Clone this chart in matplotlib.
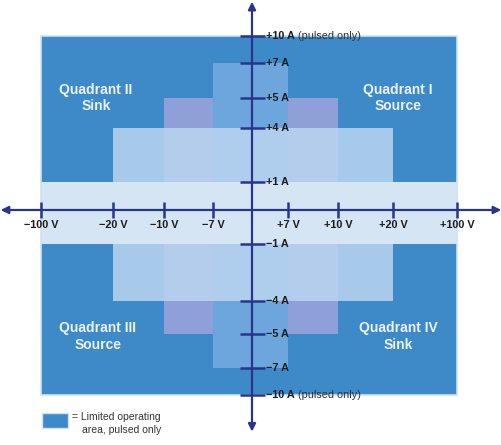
import numpy as np
import matplotlib.pyplot as plt
from matplotlib.patches import Rectangle

plt.rcParams['font.family'] = ['Liberation Sans', 'DejaVu Sans']

# tick values on the two axes
volt_ticks = [-100, -20, -10, -7, 7, 10, 20, 100]
volt_labels = ['\u2212100 V', '\u221220 V', '\u221210 V', '\u22127 V', '+7 V', '+10 V', '+20 V', '+100 V']
amp_ticks = [10, 7, 5, 4, 1, -1, -4, -5, -7, -10]
amp_labels = ['+10 A', '+7 A', '+5 A', '+4 A', '+1 A', '\u22121 A', '\u22124 A', '\u22125 A', '\u22127 A', '\u221210 A']

# operating ranges (+/- volts, +/- amps), back to front
range_volts = [100, 10, 7, 20, 100]
range_amps = [10, 5, 7, 4, 1]

quadrant_names = ['Quadrant I\nSource', 'Quadrant II\nSink', 'Quadrant III\nSource', 'Quadrant IV\nSink']

# styles
range_colors = ['#3e89c8', '#8f9fd8', '#6ca6dd', '#bcd6f1', '#d5e5f4']
range_alpha = [1, 1, 1, 0.85, 1]
axis_col = '#27358c'
text_col = '#1c1c1c'

# the chart is not drawn to scale: map values onto uneven positions
v_pts = [-130, -100, -20, -10, -7, 0, 7, 10, 20, 100, 130]
v_pos = [0, 41, 113, 164, 213, 252, 288, 338, 393, 457, 502]
a_pts = [-13, -10, -7, -5, -4, -1, 0, 1, 4, 5, 7, 10, 13]
a_pos = [0, 50, 77, 111, 144, 201, 235, 263, 317, 347, 382, 409, 445]


def fwd_x(v):
    return np.interp(v, v_pts, v_pos)


def inv_x(p):
    return np.interp(p, v_pos, v_pts)


def fwd_y(a):
    return np.interp(a, a_pts, a_pos)


def inv_y(p):
    return np.interp(p, a_pos, a_pts)


fig = plt.figure(figsize=(5.02, 4.45), dpi=100)
ax = fig.add_axes([0, 0, 1, 1])
ax.set_xscale('function', functions=(fwd_x, inv_x))
ax.set_yscale('function', functions=(fwd_y, inv_y))

# nested operating areas
for i in range(len(range_volts)):
    v = range_volts[i]
    a = range_amps[i]
    ax.bar(0, 2 * a, width=2 * v, bottom=-a, color=range_colors[i],
           alpha=range_alpha[i], linewidth=0, zorder=1 + i)
# thin light border round the pulsed area
ax.bar(0, 2 * range_amps[0], width=2 * range_volts[0], bottom=-range_amps[0],
       facecolor='none', edgecolor='#cfe0f2', linewidth=1.2, zorder=8)

ax.set_xlim(-130, 130)
ax.set_ylim(-13, 13)
ax.axis('off')

# axes with arrows
ax.annotate('', xy=(129.5, 0), xytext=(-129.5, 0),
            arrowprops=dict(arrowstyle='<|-|>', color=axis_col, lw=1.6,
                            mutation_scale=11, shrinkA=0, shrinkB=0), zorder=10)
ax.annotate('', xy=(0, 0.996), xytext=(0, 0.03),
            xycoords=('data', 'axes fraction'), textcoords=('data', 'axes fraction'),
            arrowprops=dict(arrowstyle='<|-|>', color=axis_col, lw=1.6,
                            mutation_scale=11, shrinkA=0, shrinkB=0), zorder=10)

# tick marks
ax.plot(volt_ticks, np.zeros(len(volt_ticks)), ls='none', marker='|',
        markersize=11, mew=1.8, color=axis_col, zorder=11)
ax.plot(np.zeros(len(amp_ticks)), amp_ticks, ls='none', marker='_',
        markersize=18, mew=1.8, color=axis_col, zorder=11)

# tick labels
for v, lab in zip(volt_ticks, volt_labels):
    ax.annotate(lab, xy=(v, 0), xytext=(0, -11), textcoords='offset points',
                ha='center', va='center', fontsize=7.8, fontweight='bold',
                color=text_col, zorder=12)
for a, lab in zip(amp_ticks, amp_labels):
    t = ax.annotate(lab, xy=(0, a), xytext=(10, 0), textcoords='offset points',
                    ha='left', va='center', fontsize=7.8, fontweight='bold',
                    color=text_col, zorder=12)
    if abs(a) == 10:
        ax.annotate(' (pulsed only)', xy=(1, 0.5), xycoords=t,
                    ha='left', va='center', fontsize=7.8, color='#333333', zorder=12)

# quadrant names
quad_xy = [(0.793, 0.780), (0.191, 0.780), (0.195, 0.243), (0.793, 0.243)]
for name, (qx, qy) in zip(quadrant_names, quad_xy):
    ax.text(qx, qy, name, transform=ax.transAxes, ha='center', va='center',
            fontsize=10, fontweight='bold', color='#eaf2fb', linespacing=1.25,
            zorder=12)

# legend for the pulsed area
ax.add_patch(Rectangle((0.0837, 0.0382), 0.0518, 0.0337, transform=ax.transAxes,
                       facecolor=range_colors[0], edgecolor='#cfe0f2', lw=1, zorder=12))
ax.text(0.1434, 0.0629, '= Limited operating', transform=ax.transAxes,
        ha='left', va='center', fontsize=7.5, color='#333333')
ax.text(0.1625, 0.0337, 'area, pulsed only', transform=ax.transAxes,
        ha='left', va='center', fontsize=7.5, color='#333333')

fig.savefig('out.png', dpi=100)
